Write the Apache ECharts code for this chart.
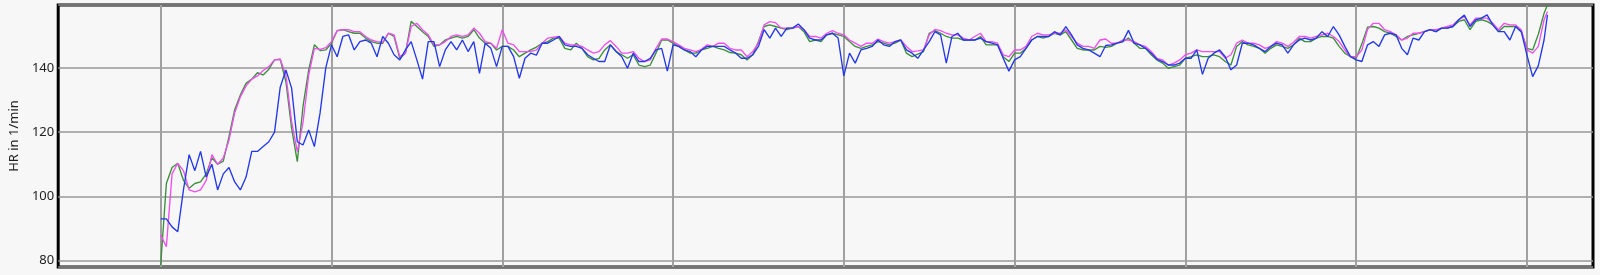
<!DOCTYPE html>
<html>
<head>
<meta charset="utf-8">
<script src="https://cdn.jsdelivr.net/npm/echarts@6/dist/echarts.min.js"></script>
<style>
html,body{margin:0;padding:0;background:#f7f7f7;}
#c{width:1600px;height:275px;}
</style>
</head>
<body>
<div id="c"></div>
<script>
// time in seconds
const times = [0,10,20,30,40,50,60,70,80,90,100,110,120,130,140,150,160,170,180,190,200,210,220,230,240,250,260,270,280,290,300,310,320,330,340,350,360,370,380,390,400,410,420,430,440,450,460,470,480,490,500,510,520,530,540,550,560,570,580,590,600,610,620,630,640,650,660,670,680,690,700,710,720,730,740,750,760,770,780,790,800,810,820,830,840,850,860,870,880,890,900,910,920,930,940,950,960,970,980,990,1000,1010,1020,1030,1040,1050,1060,1070,1080,1090,1100,1110,1120,1130,1140,1150,1160,1170,1180,1190,1200,1210,1220,1230,1240,1250,1260,1270,1280,1290,1300,1310,1320,1330,1340,1350,1360,1370,1380,1390,1400,1410,1420,1430,1440,1450,1460,1470,1480,1490,1500,1510,1520,1530,1540,1550,1560,1570,1580,1590,1600,1610,1620,1630,1640,1650,1660,1670,1680,1690,1700,1710,1720,1730,1740,1750,1760,1770,1780,1790,1800,1810,1820,1830,1840,1850,1860,1870,1880,1890,1900,1910,1920,1930,1940,1950,1960,1970,1980,1990,2000,2010,2020,2030,2040,2050,2060,2070,2080,2090,2100,2110,2120,2130,2140,2150,2160,2170,2180,2190,2200,2210,2220,2230,2240,2250,2260,2270,2280,2290,2300,2310,2320,2330,2340,2350,2360,2370,2380,2390,2400,2410,2420,2430,2436];

const hrGreen = [
78.5,104,109,110.3,105,102.5,104,104.5,107,112,
110,111,118.6,127,131.6,135.2,136.5,138.5,137.8,139.6,
142.5,142.7,135.7,121.2,110.8,128,139.4,147.2,145.4,145.6,
147.7,151.6,151.9,151.3,150.8,150.8,149.3,148.2,147.7,147.7,
150.8,149.8,143,144.6,154.5,152.9,151.3,149.8,146.7,147.2,
148.7,149.3,149.8,149.3,149.8,151.9,149.3,147.7,147.7,145.6,
146.7,146.7,145.6,143.5,144.6,145.6,146.5,147.7,148.2,149.3,
149.3,146.1,145.6,147.7,146.1,143.5,142.5,143,145.6,147.2,
145.1,144.1,143,144.1,140.9,140.4,140.9,144.6,148.7,148.7,
147.7,146.7,145.6,144.6,144.6,145.6,146.1,146.7,146.1,145.6,
144.8,144.6,144.1,142.5,144.1,148.2,152.9,153.4,152.9,152.4,
151.9,152.4,152.9,151.3,148.2,148.7,148.2,150.3,150.8,150.3,
149.8,148.2,146.7,146.1,146.7,147.2,148.2,147.7,147.2,147.7,
148.7,144.6,143.5,144.3,145.1,150.8,151.6,150.8,149.8,149.3,
149.3,148.7,148.7,148.7,149.8,147.2,147.2,147.2,143.5,142,
144.6,144.6,146.1,148.7,149.8,149.3,149.8,150.8,150.3,151.3,
148.7,146.1,145.6,145.6,145.6,146.7,146.4,146.7,147.7,148.2,
149.3,147.7,146.1,146.1,144.1,142.5,141.5,139.9,140.4,140.9,
143,143.5,144.1,143.5,143.5,144.1,143.5,142,140.9,146.7,
148.2,147.2,146.7,146.1,144.6,146.1,147.2,146.7,146.1,147.2,
149.3,148.2,148.2,149.3,149.8,149.8,149.3,146.7,144.6,143.5,
143,147.5,152.7,152.9,152.4,151.3,150.8,149.8,148.7,149.8,
150.3,150.8,151.3,151.9,151.3,152.4,152.4,152.9,154.5,155,
151.9,154.5,155,154.5,153.4,151.3,152.9,152.9,152.9,151.3,
146.1,145.6,150.5,157,159.6];

const hrMagenta = [
88,84.3,107,110.3,108,102,101.4,102,105,113,
110,112,117.5,126,131,134.4,136.5,137.5,139.2,140.4,
142.5,142.7,137.8,123.3,113.9,123,137.8,146.1,145.8,146.3,
148.2,151.6,151.9,151.9,151.3,151.3,149.8,148.7,148.2,148,
150.8,150.3,143.5,144.6,152.9,153.9,151.9,150.3,147.2,147.2,
148.2,149.8,150.3,149.8,150.3,152.4,150.8,148.2,147.7,146.1,
151.9,147.7,147.2,145.1,145.1,145.1,145.6,147.7,149.3,149.6,
149.8,147.7,147.2,147.2,146.7,145.6,144.6,145.1,147.2,148.5,
146.7,144.6,144.6,145.1,143,142,142.5,146.1,149,149,
148.2,147.2,146.1,145.6,145.1,145.8,147.2,146.7,147.7,147.7,
146.1,145.6,145.6,143.5,145.1,147.7,153.4,154.4,154.1,152.4,
152.4,152.4,152.9,151.9,149.8,149.8,149.3,150.8,151.6,150.8,
150.3,148.7,147.7,146.7,147.7,147.7,149,148.2,147.7,148.2,
148.7,146.7,145.1,145.3,145.6,150.3,152,151.6,150.8,150.3,
150.3,149.3,148.7,149.8,150.8,148.2,148.2,147.7,144.1,143.5,
145.6,145.6,146.7,149.8,150.8,150.3,150.3,150.8,150.8,151.9,
149.8,147.7,146.7,146.7,146.1,148.7,149,147.7,147.7,148.7,
148.7,148.2,147.2,146.7,145.1,143,142.5,140.9,141.5,142.5,
144.1,144.6,145.6,145.1,145.1,145.1,145.1,143,144.1,147.7,
148.7,147.7,147.7,147.2,146.1,146.7,148.2,147.7,146.7,148,
149.8,149.8,149.3,149.8,150.3,150.8,149.8,148.2,145.6,143.5,
143.5,145.6,152,153.9,153.9,151.9,151.3,150.3,148.7,149.3,
150.8,150.8,151.3,151.9,151.9,152.4,152.9,153.4,155,156,
153.4,155.5,155.5,155.5,153.9,151.9,153.9,153.4,153.4,151.9,
145.6,144.6,146.7,155,157.6];

const hrBlue = [
93,93,90.5,89,102,113,108,114,106,110,
102,107,109,104.5,102,106,114,114,115.5,117,
120,134,139.4,133.7,117,116,120.7,115.5,126,140,
147.2,143.5,149.8,150.3,145.6,148.2,148.7,147.7,143.5,149.8,
147.7,144.1,142.5,145.6,148.2,142.5,136.5,148.2,148.2,140.4,
145.6,148.2,145.6,148.7,145.1,148.2,138.3,147.7,146.1,140.4,
146.7,146.7,143.5,136.8,143,144.6,144,147.7,147.7,148.7,
149.8,147.2,146.7,146.7,146.1,144.1,143,142,142,147.2,
145.1,143.5,139.9,144.6,142,142,143,145.6,146.1,139,
147.2,146.7,145.6,145.1,143.5,145.6,146.7,146.7,146.7,146.7,
145.6,144.6,143,143,144.1,146.7,151.9,149.3,152.4,149.8,
152.4,152.4,153.7,151.9,149.3,148.7,148.7,150.3,150.8,149.3,
137.5,144.6,141.5,145.6,146.1,146.7,148.7,147.2,146.7,148.2,
148.7,145.6,144.6,143,145.6,148.2,151.3,150.3,141.5,149.8,
150.8,148.7,148.7,148.7,149.3,148.2,147.7,147.2,143,139,
142.5,143.5,146.1,148.7,149.8,149.8,149.8,151.3,150.3,152.9,
150.3,147.2,146.1,145.6,144.6,143.5,147,147.2,147.7,148.2,
151.7,147.7,147.2,146.1,144.6,142.7,142,140.9,140.9,141.5,
143,143,145.6,138,143,144.6,145.6,143.5,139.4,140.9,
147.7,147.7,147.2,146.1,145.1,146.7,147.7,147.2,144.6,147.2,
148.7,149.3,148.7,149.3,151.3,149.8,152.9,150.3,146.7,143.5,
142.5,142,147.2,148.2,146.7,150.3,150.8,150.3,146.1,144.1,
149.3,148.7,151.3,151.9,151.3,152.4,152.4,152.9,155,156.5,
152.9,155,155.5,156.5,153.4,151.3,151.3,148.7,152.9,151.3,
144,137.3,140.7,148.7,156.5];

// vertical grid positions (seconds)
const gridTimes = [0,300,600,900,1200,1500,1800,2100,2400];

const yName = 'HR in 1/min';

const chart = echarts.init(document.getElementById('c'), null, {renderer:'canvas'});
const pairs = arr => times.map((t,i)=>[t, arr[i]]);
const font = 'Noto Sans';

chart.setOption({
  animation:false,
  backgroundColor:'#f7f7f7',
  grid:{left:57,top:5,right:7,bottom:8,show:true,backgroundColor:'#f7f7f7',borderColor:'#000',borderWidth:3,containLabel:false},
  xAxis:{type:'value',min:-180,max:2516,axisLine:{show:false},axisTick:{show:false},axisLabel:{show:false},splitLine:{show:false}},
  yAxis:{type:'value',min:78,max:159.6,splitNumber:4,
    name:yName,nameLocation:'middle',nameGap:28,
    nameTextStyle:{fontSize:13,color:'#222',fontFamily:font},
    axisLine:{show:false},axisTick:{show:false},
    axisLabel:{fontSize:13,color:'#222',fontFamily:font,margin:4,showMinLabel:false,showMaxLabel:false},
    splitLine:{show:true,lineStyle:{color:'#999',width:1.5}}},
  series:[
    {type:'line',name:'green',data:pairs(hrGreen),symbol:'none',z:3,lineStyle:{color:'#3a8f3a',width:1.35},
     markLine:{silent:true,z:1,symbol:['none','none'],label:{show:false},emphasis:{disabled:true},
       lineStyle:{color:'#a0a0a0',width:2,type:'solid'},data:gridTimes.map(t=>({xAxis:t}))}},
    {type:'line',name:'magenta',data:pairs(hrMagenta),symbol:'none',z:3,lineStyle:{color:'#ee4fee',width:1.35}},
    {type:'line',name:'blue',data:pairs(hrBlue),symbol:'none',z:3,lineStyle:{color:'#2438e8',width:1.35}}
  ]
});
</script>
</body>
</html>
